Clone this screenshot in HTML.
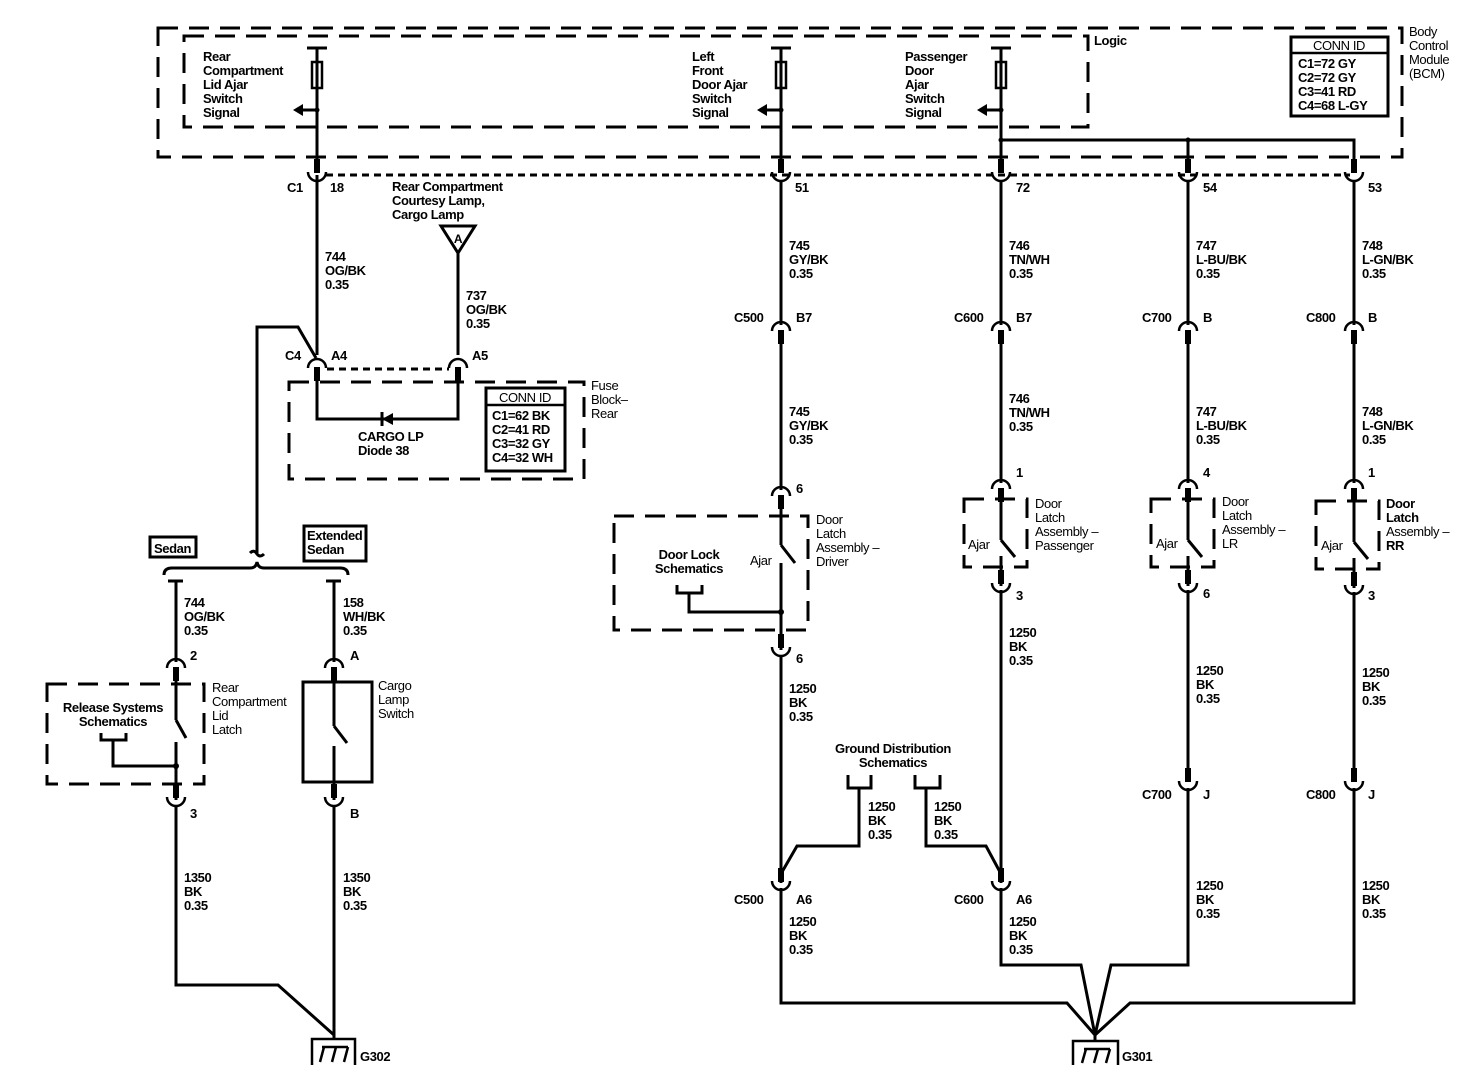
<!DOCTYPE html>
<html><head><meta charset="utf-8"><style>
html,body{margin:0;padding:0;background:#fff;}
svg{display:block;}
text{font-family:"Liberation Sans",Arial,sans-serif;font-size:13px;font-weight:bold;fill:#000;letter-spacing:-0.4px;}
.n{font-weight:normal;}
.w{stroke:#000;stroke-width:3;fill:none;}
.d{stroke:#000;stroke-width:3;fill:none;stroke-dasharray:20 11;}
.dt{stroke:#000;stroke-width:3;fill:none;stroke-dasharray:7 5;}
</style></head><body>
<svg width="1478" height="1088" viewBox="0 0 1478 1088" xmlns="http://www.w3.org/2000/svg">
<defs>
<g id="cu"><rect x="-3" y="-16" width="6" height="14" fill="#000"/><path d="M-9 -3 A9 9 0 0 0 9 -3" fill="none" stroke="#000" stroke-width="2.5"/></g>
<g id="cn"><rect x="-3" y="2" width="6" height="14" fill="#000"/><path d="M-9 3 A9 9 0 0 1 9 3" fill="none" stroke="#000" stroke-width="2.5"/></g>
<g id="fuse"><line x1="-10" y1="0" x2="10" y2="0" stroke="#000" stroke-width="3"/><rect x="-5" y="14" width="10" height="26" fill="#fff" stroke="#000" stroke-width="2.5"/><path d="M-24 62 L-14 56 L-14 68 Z" fill="#000"/><line x1="-14" y1="62" x2="0" y2="62" stroke="#000" stroke-width="3"/><circle cx="0" cy="62" r="2.5" fill="#000"/></g>
</defs>

<!-- BCM boxes -->
<rect x="158" y="28" width="1244" height="129" class="d"/>
<rect x="184" y="36" width="904" height="91" class="d"/>
<text x="1094" y="45">Logic</text>
<text class="n" x="1409" y="36">Body</text><text class="n" x="1409" y="50">Control</text><text class="n" x="1409" y="64">Module</text><text class="n" x="1409" y="78">(BCM)</text>
<rect x="1291" y="37" width="97" height="79" fill="none" stroke="#000" stroke-width="3"/>
<line x1="1291" y1="53" x2="1388" y2="53" stroke="#000" stroke-width="2.5"/>
<text class="n" x="1339" y="50" text-anchor="middle">CONN ID</text>
<text x="1298" y="68">C1=72 GY</text><text x="1298" y="82">C2=72 GY</text><text x="1298" y="96">C3=41 RD</text><text x="1298" y="110">C4=68 L-GY</text>

<!-- internal signals -->
<use href="#fuse" x="317" y="48"/><use href="#fuse" x="781" y="48"/><use href="#fuse" x="1001" y="48"/>
<line class="w" x1="317" y1="48" x2="317" y2="160"/>
<line class="w" x1="781" y1="48" x2="781" y2="160"/>
<line class="w" x1="1001" y1="48" x2="1001" y2="160"/>
<text x="203" y="61">Rear</text><text x="203" y="75">Compartment</text><text x="203" y="89">Lid Ajar</text><text x="203" y="103">Switch</text><text x="203" y="117">Signal</text>
<text x="692" y="61">Left</text><text x="692" y="75">Front</text><text x="692" y="89">Door Ajar</text><text x="692" y="103">Switch</text><text x="692" y="117">Signal</text>
<text x="905" y="61">Passenger</text><text x="905" y="75">Door</text><text x="905" y="89">Ajar</text><text x="905" y="103">Switch</text><text x="905" y="117">Signal</text>
<polyline class="w" points="1001,140 1354,140 1354,160"/>
<line class="w" x1="1188" y1="140" x2="1188" y2="160"/>
<circle cx="1001" cy="140" r="2.5"/><circle cx="1188" cy="140" r="2.5"/>

<!-- connector C1 row -->
<line class="dt" x1="326" y1="175" x2="1350" y2="175"/>
<use href="#cu" x="317" y="175"/><use href="#cu" x="781" y="175"/><use href="#cu" x="1001" y="175"/><use href="#cu" x="1188" y="175"/><use href="#cu" x="1354" y="175"/>
<text x="287" y="192">C1</text><text x="330" y="192">18</text><text x="795" y="192">51</text><text x="1016" y="192">72</text><text x="1203" y="192">54</text><text x="1368" y="192">53</text>

<!-- left section -->
<line class="w" x1="317" y1="175" x2="317" y2="355"/>
<text x="325" y="261">744</text><text x="325" y="275">OG/BK</text><text x="325" y="289">0.35</text>
<text x="392" y="191">Rear Compartment</text><text x="392" y="205">Courtesy Lamp,</text><text x="392" y="219">Cargo Lamp</text>
<path d="M441 226 L475 226 L458 253 Z" fill="#fff" stroke="#000" stroke-width="3"/>
<text x="458" y="243" text-anchor="middle" style="font-size:12px">A</text>
<line class="w" x1="458" y1="253" x2="458" y2="355"/>
<text x="466" y="300">737</text><text x="466" y="314">OG/BK</text><text x="466" y="328">0.35</text>
<polyline class="w" points="316,358 298,327 257,327 257,553"/>
<path d="M250 553 Q254 549 257 554 Q260 558 264 554" class="w" stroke-width="2.5"/>
<use href="#cn" x="317" y="365"/><use href="#cn" x="458" y="365"/>
<line class="dt" x1="327" y1="369" x2="449" y2="369"/>
<text x="285" y="360">C4</text><text x="331" y="360">A4</text><text x="472" y="360">A5</text>
<rect x="289" y="382" width="295" height="97" class="d"/>
<polyline class="w" points="317,380 317,419 458,419 458,380"/>
<path d="M382 419 L393 413 L393 425 Z" fill="#000"/><line x1="382" y1="412" x2="382" y2="426" stroke="#000" stroke-width="3"/>
<text x="358" y="441">CARGO LP</text><text x="358" y="455">Diode 38</text>
<rect x="486" y="388" width="79" height="83" fill="none" stroke="#000" stroke-width="3"/>
<line x1="486" y1="405" x2="565" y2="405" stroke="#000" stroke-width="2.5"/>
<text class="n" x="525" y="402" text-anchor="middle">CONN ID</text>
<text x="492" y="420">C1=62 BK</text><text x="492" y="434">C2=41 RD</text><text x="492" y="448">C3=32 GY</text><text x="492" y="462">C4=32 WH</text>
<text class="n" x="591" y="390">Fuse</text><text class="n" x="591" y="404">Block–</text><text class="n" x="591" y="418">Rear</text>

<!-- sedan bracket -->
<rect x="150" y="537" width="46" height="20" fill="none" stroke="#000" stroke-width="3"/><text x="154" y="553">Sedan</text>
<rect x="304" y="526" width="62" height="35" fill="none" stroke="#000" stroke-width="3"/><text x="307" y="540">Extended</text><text x="307" y="554">Sedan</text>
<path d="M164 575 Q164 568 172 568 L250 568 Q256 568 257 562 Q258 568 264 568 L340 568 Q348 568 348 575" class="w" stroke-width="2.5"/>
<line class="w" x1="168" y1="581" x2="183" y2="581"/><line class="w" x1="176" y1="581" x2="176" y2="662"/>
<line class="w" x1="326" y1="581" x2="341" y2="581"/><line class="w" x1="334" y1="581" x2="334" y2="662"/>
<text x="184" y="607">744</text><text x="184" y="621">OG/BK</text><text x="184" y="635">0.35</text>
<text x="343" y="607">158</text><text x="343" y="621">WH/BK</text><text x="343" y="635">0.35</text>
<use href="#cn" x="176" y="665"/><use href="#cn" x="334" y="665"/>
<text x="190" y="660">2</text><text x="350" y="660">A</text>
<rect x="47" y="684" width="157" height="100" class="d"/>
<line class="w" x1="176" y1="680" x2="176" y2="720"/><line class="w" x1="176" y1="720" x2="186" y2="738"/>
<line class="w" x1="176" y1="742" x2="176" y2="800"/>
<circle cx="176" cy="766" r="3"/><polyline class="w" points="176,766 113,766 113,740"/>
<polyline class="w" points="101,733 101,740 126,740 126,733"/>
<text x="113" y="712" text-anchor="middle">Release Systems</text><text x="113" y="726" text-anchor="middle">Schematics</text>
<text class="n" x="212" y="692">Rear</text><text class="n" x="212" y="706">Compartment</text><text class="n" x="212" y="720">Lid</text><text class="n" x="212" y="734">Latch</text>
<rect x="303" y="682" width="69" height="100" fill="none" stroke="#000" stroke-width="3"/>
<line class="w" x1="334" y1="680" x2="334" y2="726"/><line class="w" x1="334" y1="726" x2="347" y2="743"/>
<line class="w" x1="334" y1="746" x2="334" y2="800"/>
<text class="n" x="378" y="690">Cargo</text><text class="n" x="378" y="704">Lamp</text><text class="n" x="378" y="718">Switch</text>
<use href="#cu" x="176" y="800"/><use href="#cu" x="334" y="800"/>
<text x="190" y="818">3</text><text x="350" y="818">B</text>
<text x="184" y="882">1350</text><text x="184" y="896">BK</text><text x="184" y="910">0.35</text>
<text x="343" y="882">1350</text><text x="343" y="896">BK</text><text x="343" y="910">0.35</text>
<polyline class="w" points="176,805 176,985 278,985 334,1035"/>
<line class="w" x1="334" y1="805" x2="334" y2="1040"/>
<polyline points="312,1065 312,1039 355,1039 355,1065" fill="none" stroke="#000" stroke-width="2.5"/>
<line x1="322" y1="1047" x2="348" y2="1047" stroke="#000" stroke-width="2.5"/>
<line x1="324" y1="1047" x2="320" y2="1062" stroke="#000" stroke-width="2.5"/><line x1="336" y1="1047" x2="332" y2="1062" stroke="#000" stroke-width="2.5"/><line x1="348" y1="1047" x2="344" y2="1062" stroke="#000" stroke-width="2.5"/>
<text x="360" y="1061">G302</text>

<!-- right columns: upper -->
<line class="w" x1="781" y1="180" x2="781" y2="325"/><line class="w" x1="1001" y1="180" x2="1001" y2="325"/><line class="w" x1="1188" y1="180" x2="1188" y2="325"/><line class="w" x1="1354" y1="180" x2="1354" y2="325"/>
<text x="789" y="250">745</text><text x="789" y="264">GY/BK</text><text x="789" y="278">0.35</text>
<text x="1009" y="250">746</text><text x="1009" y="264">TN/WH</text><text x="1009" y="278">0.35</text>
<text x="1196" y="250">747</text><text x="1196" y="264">L-BU/BK</text><text x="1196" y="278">0.35</text>
<text x="1362" y="250">748</text><text x="1362" y="264">L-GN/BK</text><text x="1362" y="278">0.35</text>
<use href="#cn" x="781" y="328"/><use href="#cn" x="1001" y="328"/><use href="#cn" x="1188" y="328"/><use href="#cn" x="1354" y="328"/>
<text x="734" y="322">C500</text><text x="796" y="322">B7</text>
<text x="954" y="322">C600</text><text x="1016" y="322">B7</text>
<text x="1142" y="322">C700</text><text x="1203" y="322">B</text>
<text x="1306" y="322">C800</text><text x="1368" y="322">B</text>
<line class="w" x1="781" y1="340" x2="781" y2="490"/><line class="w" x1="1001" y1="340" x2="1001" y2="483"/><line class="w" x1="1188" y1="340" x2="1188" y2="483"/><line class="w" x1="1354" y1="340" x2="1354" y2="483"/>
<text x="789" y="416">745</text><text x="789" y="430">GY/BK</text><text x="789" y="444">0.35</text>
<text x="1009" y="403">746</text><text x="1009" y="417">TN/WH</text><text x="1009" y="431">0.35</text>
<text x="1196" y="416">747</text><text x="1196" y="430">L-BU/BK</text><text x="1196" y="444">0.35</text>
<text x="1362" y="416">748</text><text x="1362" y="430">L-GN/BK</text><text x="1362" y="444">0.35</text>

<!-- driver latch -->
<use href="#cn" x="781" y="493"/><text x="796" y="493">6</text>
<rect x="614" y="516" width="194" height="114" class="d"/>
<line class="w" x1="781" y1="505" x2="781" y2="545"/><line class="w" x1="781" y1="545" x2="795" y2="563"/>
<line class="w" x1="781" y1="563" x2="781" y2="650"/>
<circle cx="781" cy="612" r="3"/><polyline class="w" points="781,612 689,612 689,593"/>
<polyline class="w" points="677,585 677,593 702,593 702,585"/>
<text x="689" y="559" text-anchor="middle">Door Lock</text><text x="689" y="573" text-anchor="middle">Schematics</text>
<text class="n" x="750" y="565">Ajar</text>
<text class="n" x="816" y="524">Door</text><text class="n" x="816" y="538">Latch</text><text class="n" x="816" y="552">Assembly –</text><text class="n" x="816" y="566">Driver</text>
<use href="#cu" x="781" y="650"/><text x="796" y="663">6</text>
<text x="789" y="693">1250</text><text x="789" y="707">BK</text><text x="789" y="721">0.35</text>

<!-- passenger / LR / RR latches -->
<use href="#cn" x="1001" y="486"/><use href="#cn" x="1188" y="486"/><use href="#cn" x="1354" y="486"/>
<text x="1016" y="477">1</text><text x="1203" y="477">4</text><text x="1368" y="477">1</text>
<rect x="964" y="499" width="63" height="68" class="d" stroke-dasharray="14 12"/>
<rect x="1151" y="499" width="63" height="68" class="d" stroke-dasharray="14 12"/>
<rect x="1316" y="501" width="63" height="68" class="d" stroke-dasharray="14 12"/>
<line class="w" x1="1001" y1="498" x2="1001" y2="540"/><line class="w" x1="1001" y1="540" x2="1015" y2="557"/><line class="w" x1="1001" y1="556" x2="1001" y2="586"/>
<line class="w" x1="1188" y1="498" x2="1188" y2="540"/><line class="w" x1="1188" y1="540" x2="1202" y2="557"/><line class="w" x1="1188" y1="556" x2="1188" y2="586"/>
<line class="w" x1="1354" y1="498" x2="1354" y2="542"/><line class="w" x1="1354" y1="542" x2="1368" y2="559"/><line class="w" x1="1354" y1="558" x2="1354" y2="588"/>
<text class="n" x="968" y="549">Ajar</text><text class="n" x="1156" y="548">Ajar</text><text class="n" x="1321" y="550">Ajar</text>
<text class="n" x="1035" y="508">Door</text><text class="n" x="1035" y="522">Latch</text><text class="n" x="1035" y="536">Assembly –</text><text class="n" x="1035" y="550">Passenger</text>
<text class="n" x="1222" y="506">Door</text><text class="n" x="1222" y="520">Latch</text><text class="n" x="1222" y="534">Assembly –</text><text class="n" x="1222" y="548">LR</text>
<text x="1386" y="508">Door</text><text x="1386" y="522">Latch</text><text class="n" x="1386" y="536">Assembly –</text><text x="1386" y="550">RR</text>
<use href="#cu" x="1001" y="586"/><use href="#cu" x="1188" y="586"/><use href="#cu" x="1354" y="588"/>
<text x="1016" y="600">3</text><text x="1203" y="598">6</text><text x="1368" y="600">3</text>
<text x="1009" y="637">1250</text><text x="1009" y="651">BK</text><text x="1009" y="665">0.35</text>
<text x="1196" y="675">1250</text><text x="1196" y="689">BK</text><text x="1196" y="703">0.35</text>
<text x="1362" y="677">1250</text><text x="1362" y="691">BK</text><text x="1362" y="705">0.35</text>
<line class="w" x1="1188" y1="590" x2="1188" y2="772"/><line class="w" x1="1354" y1="592" x2="1354" y2="772"/>
<use href="#cu" x="1188" y="784"/><use href="#cu" x="1354" y="784"/>
<text x="1142" y="799">C700</text><text x="1203" y="799">J</text><text x="1306" y="799">C800</text><text x="1368" y="799">J</text>
<text x="1196" y="890">1250</text><text x="1196" y="904">BK</text><text x="1196" y="918">0.35</text>
<text x="1362" y="890">1250</text><text x="1362" y="904">BK</text><text x="1362" y="918">0.35</text>

<!-- ground distribution -->
<text x="893" y="753" text-anchor="middle">Ground Distribution</text><text x="893" y="767" text-anchor="middle">Schematics</text>
<polyline class="w" points="848,775 848,788 871,788 871,775"/>
<polyline class="w" points="915,775 915,788 940,788 940,775"/>
<polyline class="w" points="859,788 859,846 797,846 782,872"/>
<polyline class="w" points="926,788 926,846 986,846 1000,872"/>
<text x="868" y="811">1250</text><text x="868" y="825">BK</text><text x="868" y="839">0.35</text>
<text x="934" y="811">1250</text><text x="934" y="825">BK</text><text x="934" y="839">0.35</text>
<line class="w" x1="781" y1="655" x2="781" y2="883"/>
<line class="w" x1="1001" y1="590" x2="1001" y2="883"/>
<use href="#cu" x="781" y="884"/><use href="#cu" x="1001" y="884"/>
<text x="734" y="904">C500</text><text x="796" y="904">A6</text><text x="954" y="904">C600</text><text x="1016" y="904">A6</text>
<text x="789" y="926">1250</text><text x="789" y="940">BK</text><text x="789" y="954">0.35</text>
<text x="1009" y="926">1250</text><text x="1009" y="940">BK</text><text x="1009" y="954">0.35</text>

<!-- bottom ground G301 -->
<polyline class="w" points="781,888 781,1003 1067,1003 1095,1035"/>
<polyline class="w" points="1001,888 1001,965 1081,965 1095,1035"/>
<polyline class="w" points="1188,788 1188,965 1111,965 1095,1035"/>
<polyline class="w" points="1354,788 1354,1003 1130,1003 1095,1035"/>
<line class="w" x1="1095" y1="1035" x2="1095" y2="1042"/>
<polyline points="1073,1065 1073,1041 1118,1041 1118,1065" fill="none" stroke="#000" stroke-width="2.5"/>
<line x1="1084" y1="1049" x2="1110" y2="1049" stroke="#000" stroke-width="2.5"/>
<line x1="1086" y1="1049" x2="1082" y2="1063" stroke="#000" stroke-width="2.5"/><line x1="1098" y1="1049" x2="1094" y2="1063" stroke="#000" stroke-width="2.5"/><line x1="1110" y1="1049" x2="1106" y2="1063" stroke="#000" stroke-width="2.5"/>
<text x="1122" y="1061">G301</text>
</svg>
</body></html>
